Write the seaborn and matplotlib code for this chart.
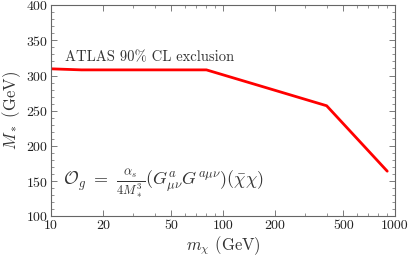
import matplotlib
matplotlib.use("Agg")
import matplotlib.pyplot as plt
import seaborn as sns
import pandas as pd
from matplotlib.ticker import FixedLocator, FixedFormatter, MultipleLocator, LogLocator, NullFormatter

mchi = [10, 15, 80, 200, 400, 900]
mstar = [309.5, 308, 308, 279, 257, 164]
xticks = [10, 20, 50, 100, 200, 500, 1000]
xticklabels = ["10", "20", "50", "100", "200", "500", "1000"]

sns.set_theme(style="ticks")
plt.rcParams["font.family"] = ["serif"]
plt.rcParams["font.serif"] = ["cmr10", "DejaVu Serif"]
plt.rcParams["mathtext.fontset"] = "cm"
plt.rcParams["axes.formatter.use_mathtext"] = True

df = pd.DataFrame({"mchi": mchi, "mstar": mstar})

fig, ax = plt.subplots(figsize=(4.09, 2.58), dpi=100)
fig.subplots_adjust(left=0.125, right=0.966, top=0.98, bottom=0.162)
sns.lineplot(data=df, x="mchi", y="mstar", ax=ax, color="#ff0000", lw=2.0, sort=False)
ax.set_xscale("log")
ax.set_xlim(10, 1000)
ax.set_ylim(100, 400)
ax.xaxis.set_major_locator(FixedLocator(xticks))
ax.xaxis.set_major_formatter(FixedFormatter(xticklabels))
ax.xaxis.set_minor_locator(LogLocator(base=10, subs=range(1, 10)))
ax.xaxis.set_minor_formatter(NullFormatter())
ax.yaxis.set_major_locator(MultipleLocator(50))
ax.yaxis.set_minor_locator(MultipleLocator(10))

textc = "#333333"
ax.tick_params(which="both", direction="in", top=True, right=True, colors="#666666", labelcolor="#222222", labelsize=10)
ax.tick_params(axis="x", pad=3)
ax.tick_params(axis="y", pad=2)
ax.tick_params(which="major", length=4, width=0.6)
ax.tick_params(which="minor", length=2, width=0.5)
for s in ax.spines.values():
    s.set_color("#666666")
    s.set_linewidth(0.8)

ax.set_xlabel(r"$m_\chi$ (GeV)", fontsize=12, color=textc, labelpad=1)
ax.set_ylabel(r"$M_*$ (GeV)", fontsize=12, color=textc, labelpad=2)

ax.text(0.04, 0.75, "ATLAS 90% CL exclusion", transform=ax.transAxes, fontsize=10.5, color=textc, va="center", ha="left")
ax.text(0.035, 0.155, r"$\mathcal{O}_g\ =\ \frac{\alpha_s}{4M_*^3}(G^a_{\mu\nu}G^{a\mu\nu})(\bar{\chi}\chi)$",
        transform=ax.transAxes, fontsize=13, color=textc, va="center", ha="left")

fig.savefig("out.png", dpi=100)
